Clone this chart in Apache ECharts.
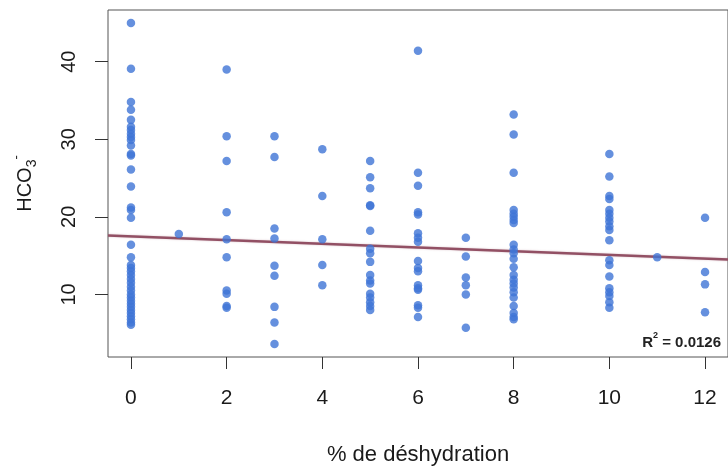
<!DOCTYPE html>
<html>
<head>
<meta charset="utf-8">
<script src="https://cdn.jsdelivr.net/npm/echarts@6/dist/echarts.min.js"></script>
<style>
  html, body { margin: 0; padding: 0; background: #fff; }
  #chart { width: 728px; height: 472px; }
</style>
</head>
<body>
<div id="chart"></div>
<script>
// % de déshydration -> list of HCO3- readings
const col0 = [45.0, 39.1, 34.8, 33.8, 32.5, 31.6, 31.2, 30.7, 30.3, 29.9, 29.2, 28.1, 27.9, 26.1, 23.9, 21.2, 20.9, 19.9, 16.4, 14.8,
  13.8, 13.4, 13.0, 12.5, 12.0, 11.5, 11.0, 10.5, 10.0, 9.6, 9.2, 8.8, 8.4, 8.0, 7.6, 7.2, 6.8, 6.4, 6.1]
const col1 = [17.8]
const col2 = [39.0, 30.4, 27.2, 20.6, 17.1, 14.8, 10.5, 10.1, 8.5, 8.3]
const col3 = [30.4, 27.7, 18.5, 17.2, 13.7, 12.4, 8.4, 6.4, 3.6]
const col4 = [28.7, 22.7, 17.1, 13.8, 11.2]
const col5 = [27.2, 25.1, 23.7, 21.5, 21.4, 18.2, 15.9, 15.3, 14.2, 12.5, 11.8, 11.4, 10.1, 9.6, 9.0, 8.5, 8.0]
const col6 = [41.4, 25.7, 24.0, 20.6, 20.3, 17.9, 17.3, 16.8, 14.3, 13.4, 13.0, 11.2, 10.8, 10.6, 8.6, 8.3, 7.1]
const col7 = [17.3, 14.9, 12.2, 11.2, 10.0, 5.7]
const col8 = [33.2, 30.6, 25.7, 20.9, 20.4, 20.0, 19.6, 19.2, 16.4, 15.8, 15.3, 14.6, 13.5, 12.5, 11.9, 11.4, 10.9, 10.3, 9.6, 8.5, 7.6, 7.1, 6.8]
const col10 = [28.1, 25.2, 22.7, 22.3, 20.9, 20.4, 19.9, 19.4, 18.8, 18.3, 17.0, 14.4, 13.8, 12.3, 10.8, 10.3, 9.8, 9.0, 8.3]
const col11 = [14.8]
const col12 = [19.9, 12.9, 11.3, 7.7]

const dehydration = [0, 1, 2, 3, 4, 5, 6, 7, 8, 10, 11, 12]
const hco3 = [col0, col1, col2, col3, col4, col5, col6, col7, col8, col10, col11, col12]

// regression line ends
const fitX = [-0.48, 12.48]
const fitY = [17.6, 14.5]

const xTicks = [0, 2, 4, 6, 8, 10, 12]
const yTicks = [10, 20, 30, 40]

const points = []
dehydration.forEach((x, i) => {
  hco3[i].forEach(v => points.push([x, v]))
})

const chart = echarts.init(document.getElementById('chart'))

const axisFont = { fontFamily: 'Liberation Sans, Arial, sans-serif', color: '#1a1a1a' }

const option = {
  animation: false,
  backgroundColor: '#fff',
  grid: {
    left: 108, top: 10, width: 624, height: 347,
    show: true, borderColor: '#555', borderWidth: 1, backgroundColor: 'transparent'
  },
  xAxis: {
    type: 'value',
    min: fitX[0],
    max: fitX[1],
    axisLine: { show: false, onZero: false },
    splitLine: { show: false },
    axisTick: { show: true, length: 12, inside: false, customValues: xTicks, lineStyle: { color: '#333' } },
    axisLabel: { ...axisFont, fontSize: 21, margin: 31, customValues: xTicks },
    name: '% de déshydration',
    nameLocation: 'middle',
    nameGap: 87,
    nameTextStyle: { ...axisFont, fontSize: 22 }
  },
  yAxis: {
    type: 'value',
    min: 1.94,
    max: 46.66,
    axisLine: { show: false, onZero: false },
    splitLine: { show: false },
    axisTick: { show: true, length: 13, inside: false, customValues: yTicks, lineStyle: { color: '#333' } },
    axisLabel: { ...axisFont, fontSize: 20, rotate: 90, margin: 29, customValues: yTicks },
    name: '{a|HCO}{b|3}{c|-}',
    nameLocation: 'middle',
    nameRotate: 90,
    nameGap: 68,
    nameTextStyle: {
      rich: {
        a: { ...axisFont, fontSize: 20, lineHeight: 30, verticalAlign: 'middle' },
        b: { ...axisFont, fontSize: 14, lineHeight: 30, verticalAlign: 'bottom', padding: [0, 0, 1, 0] },
        c: { ...axisFont, fontSize: 13, lineHeight: 30, verticalAlign: 'top' }
      }
    }
  },
  series: [
    {
      type: 'line',
      data: fitX.map((x, i) => [x, fitY[i]]),
      symbol: 'none',
      lineStyle: { color: '#925064', width: 2.5, shadowColor: 'rgba(146,80,100,0.35)', shadowBlur: 2 },
      z: 1
    },
    {
      type: 'scatter',
      data: points,
      symbolSize: 8.5,
      itemStyle: { color: '#3f74d6' },
      z: 2
    }
  ],
  graphic: [
    {
      type: 'text',
      right: 7,
      top: 331,
      style: {
        text: '{r|R}{s|2}{r| = 0.0126}',
        rich: {
          r: { fontFamily: 'Liberation Sans Narrow, Liberation Sans, Arial', fontWeight: 'bold', fontSize: 15, fill: '#222', lineHeight: 19, verticalAlign: 'bottom' },
          s: { fontFamily: 'Liberation Sans Narrow, Liberation Sans, Arial', fontWeight: 'bold', fontSize: 9, fill: '#222', lineHeight: 19, verticalAlign: 'top' }
        }
      }
    }
  ]
}

chart.setOption(option)
</script>
</body>
</html>
